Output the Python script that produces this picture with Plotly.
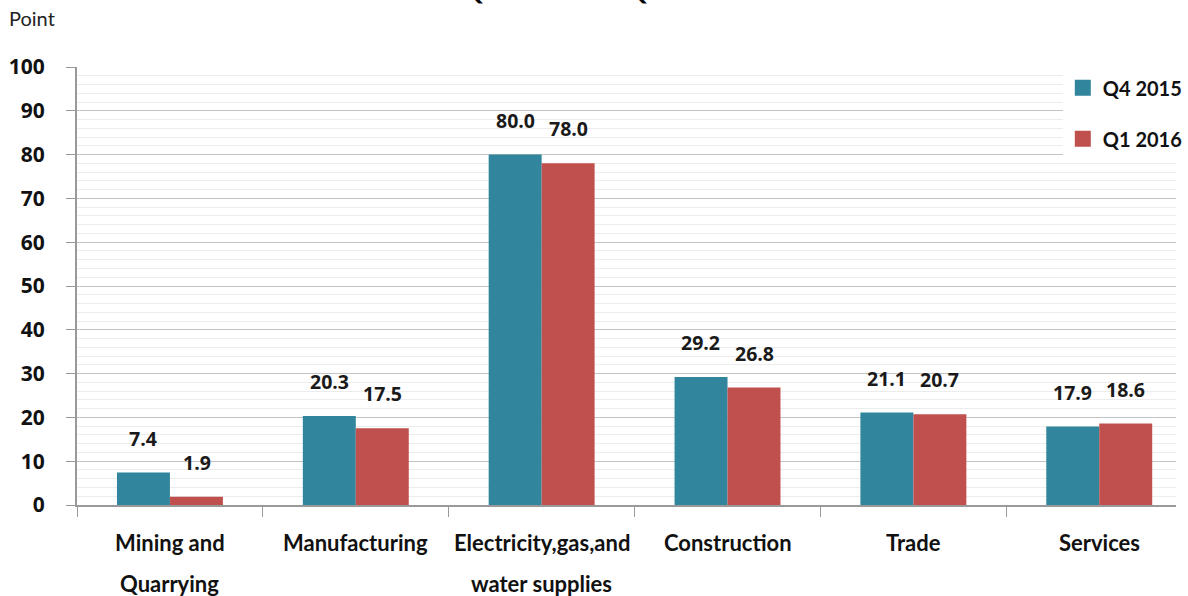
import plotly.graph_objects as go

categories = ["Mining and Quarrying", "Manufacturing", "Electricity,gas,and water supplies",
              "Construction", "Trade", "Services"]
label_line1 = ["Mining and", "Manufacturing", "Electricity,gas,and", "Construction", "Trade", "Services"]
label_line2 = ["Quarrying", "", "water supplies", "", "", ""]
q4_2015 = [7.4, 20.3, 80.0, 29.2, 21.1, 17.9]
q1_2016 = [1.9, 17.5, 78.0, 26.8, 20.7, 18.6]
series_names = ["Q4 2015", "Q1 2016"]
colors = ["#31859c", "#c0504d"]

W, H = 1188, 596
M_L, M_R, M_T, M_B = 77, 0, 67, 91
plot_h = H - M_T - M_B
plot_w = 1104
x_hi = 5.413
unit_px = plot_w / (x_hi + 0.5)
bar_px = unit_px * 0.57 / 2

num_font = dict(family="Open Sans", size=19.5, color="#1a1a1a")
lbl_font = dict(family="Lato", size=22, color="#111111")

fig = go.Figure()
for name, vals, col in zip(series_names, [q4_2015, q1_2016], colors):
    fig.add_trace(go.Bar(x=categories, y=vals, name=name, marker=dict(color=col, line=dict(width=0)),
                         showlegend=False, hoverinfo="skip"))
    fig.add_trace(go.Scatter(x=[None], y=[None], mode="markers", name=f"<b>{name}</b>",
                             marker=dict(symbol="square", size=19, color=col),
                             legendgroup=name))

annotations = []
# value labels above each bar
for k, vals in enumerate([q4_2015, q1_2016]):
    shift = -bar_px / 2 if k == 0 else bar_px / 2
    for c, v in zip(categories, vals):
        annotations.append(dict(x=c, y=v, xref="x", yref="y", text=f"<b>{v:.1f}</b>",
                                showarrow=False, yanchor="bottom", xshift=shift, yshift=19,
                                font=num_font))
# category labels (two lines, wide spacing)
for c, l1, l2 in zip(categories, label_line1, label_line2):
    annotations.append(dict(x=c, y=-37 / plot_h, xref="x", yref="paper", text=f"<b>{l1}</b>",
                            showarrow=False, yanchor="middle", font=lbl_font))
    if l2:
        annotations.append(dict(x=c, y=-78 / plot_h, xref="x", yref="paper", text=f"<b>{l2}</b>",
                                showarrow=False, yanchor="middle", font=lbl_font))
# axis unit
annotations.append(dict(x=-70 / plot_w, y=(plot_h + M_T - 18) / plot_h, xref="paper", yref="paper",
                        text="Point", showarrow=False, xanchor="left", yanchor="middle",
                        font=dict(family="Lato", size=20, color="#222222")))
# chart title, sitting above the canvas edge
annotations.append(dict(x=(599 - M_L) / plot_w, xref="paper", y=(plot_h + M_T - 8) / plot_h,
                        yref="paper", text="<b>Q4 2015 and Q1 2016</b>", showarrow=False,
                        yanchor="bottom", font=dict(family="Lato", size=27, color="#000000")))
fig.update_layout(annotations=annotations)

fig.update_layout(
    width=W, height=H,
    margin=dict(l=M_L, r=M_R, t=M_T, b=M_B, pad=0),
    paper_bgcolor="white", plot_bgcolor="white",
    barmode="group", bargap=0.43, bargroupgap=0,
    legend=dict(x=0.897, y=0.997, xanchor="left", yanchor="top", bgcolor="white",
                font=dict(family="Lato", size=20, color="#111111"),
                tracegroupgap=22, itemsizing="trace"),
    xaxis=dict(range=[-0.5, x_hi], showticklabels=False, ticks="outside", tickson="boundaries",
               ticklen=10, tickcolor="#999999", showline=True, linecolor="#999999", linewidth=2,
               showgrid=False),
    yaxis=dict(range=[0, 100], dtick=10, ticks="outside", ticklen=9, tickcolor="#999999",
               showline=True, linecolor="#999999", linewidth=2,
               gridcolor="#c4c4c4", gridwidth=1, zeroline=False,
               ticklabelstandoff=17,
               tickfont=dict(family="Open Sans", size=21, color="#111111"),
               tickprefix="<b>", ticksuffix="</b>",
               minor=dict(dtick=2, showgrid=True, gridcolor="#ececec", gridwidth=1)),
)

fig.write_html("out.html")
